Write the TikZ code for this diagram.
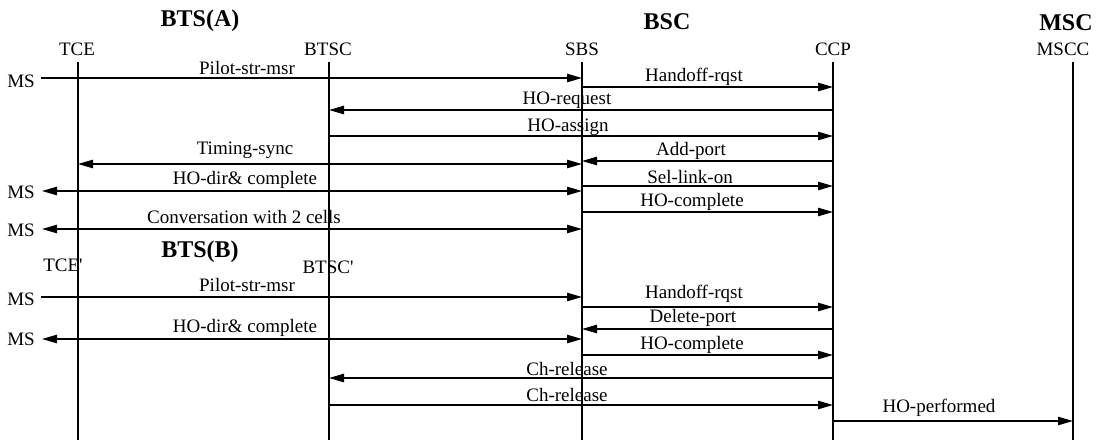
\documentclass[tikz,border=0pt]{standalone}
\usepackage{fontspec}
\setmainfont{Liberation Serif}
\usetikzlibrary{arrows.meta}
\begin{document}
\begin{tikzpicture}[x=0.5pt,y=-0.5pt,
  lbl/.style={font=\fontsize{9.5}{11}\selectfont, inner sep=0pt},
  hdr/.style={font=\fontsize{12}{14}\selectfont\bfseries, inner sep=0pt},
  life/.style={line width=0.65pt},
  msg/.style={line width=0.65pt, -{Triangle[length=7.5pt,width=4.2pt]}},
  bimsg/.style={line width=0.65pt, {Triangle[length=7.5pt,width=4.2pt]}-{Triangle[length=7.5pt,width=4.2pt]}}]
\useasboundingbox (0,0) rectangle (1105,440);
% headers
\node[hdr] (btsa) at (200,21) {BTS(A)};
\node[hdr] (bsc) at (667,22) {BSC};
\node[hdr] (msc) at (1066,23) {MSC};
\node[hdr] (btsb) at (200,252) {BTS(B)};
% lifeline labels
\node[lbl] (tce) at (77,49) {TCE};
\node[lbl] (btsc) at (328,49) {BTSC};
\node[lbl] (sbs) at (582,49) {SBS};
\node[lbl] (ccp) at (833,49) {CCP};
\node[lbl] (mscc) at (1063,49) {MSCC};
\node[lbl] (tcep) at (63,265) {TCE\textquotesingle};
\node[lbl] (btscp) at (328,267) {BTSC\textquotesingle};
% lifelines
\coordinate (tceT) at (78,62);   \coordinate (tceB) at (78,440);
\coordinate (btscT) at (329,62); \coordinate (btscB) at (329,440);
\coordinate (sbsT) at (582,62);  \coordinate (sbsB) at (582,440);
\coordinate (ccpT) at (833,62);  \coordinate (ccpB) at (833,440);
\coordinate (msccT) at (1073,62);\coordinate (msccB) at (1073,440);
\draw[life] (tceT) -- (tceB);
\draw[life] (btscT) -- (btscB);
\draw[life] (sbsT) -- (sbsB);
\draw[life] (ccpT) -- (ccpB);
\draw[life] (msccT) -- (msccB);
% MS labels
\node[lbl] (ms1) at (21,81) {MS};
\node[lbl] (ms2) at (21,192) {MS};
\node[lbl] (ms3) at (21,230) {MS};
\node[lbl] (ms4) at (21,299) {MS};
\node[lbl] (ms5) at (21,339) {MS};
% row 1
\coordinate (a1) at (41,78); \coordinate (b1) at (582,78);
\draw[msg] (a1) -- (b1);
\node[lbl] (t1) at (247,68) {Pilot-str-msr};
% row 2
\coordinate (a2) at (582,87); \coordinate (b2) at (833,87);
\draw[msg] (a2) -- (b2);
\node[lbl] (t2) at (694,77) {Handoff-rqst};
% row 3
\coordinate (a3) at (833,110); \coordinate (b3) at (329,110);
\draw[msg] (a3) -- (b3);
\node[lbl] (t3) at (567,100) {HO-request};
% row 4
\coordinate (a4) at (329,136); \coordinate (b4) at (833,136);
\draw[msg] (a4) -- (b4);
\node[lbl] (t4) at (568,127) {HO-assign};
% row 5
\coordinate (a5) at (78,164); \coordinate (b5) at (582,164);
\draw[bimsg] (a5) -- (b5);
\node[lbl] (t5) at (245,150) {Timing-sync};
% row 6
\coordinate (a6) at (833,161); \coordinate (b6) at (582,161);
\draw[msg] (a6) -- (b6);
\node[lbl] (t6) at (691,151) {Add-port};
% row 7
\coordinate (a7) at (42,191); \coordinate (b7) at (582,191);
\draw[bimsg] (a7) -- (b7);
\node[lbl] (t7) at (245,180) {HO-dir\& complete};
% row 8
\coordinate (a8) at (582,186); \coordinate (b8) at (833,186);
\draw[msg] (a8) -- (b8);
\node[lbl] (t8) at (690,177) {Sel-link-on};
% row 9
\coordinate (a9) at (582,212); \coordinate (b9) at (833,212);
\draw[msg] (a9) -- (b9);
\node[lbl] (t9) at (692,202) {HO-complete};
% row 10
\coordinate (a10) at (42,229); \coordinate (b10) at (582,229);
\draw[bimsg] (a10) -- (b10);
\node[lbl] (t10) at (244,217) {Conversation with 2 cells};
% row 12
\coordinate (a12) at (41,297); \coordinate (b12) at (582,297);
\draw[msg] (a12) -- (b12);
\node[lbl] (t12) at (247,285) {Pilot-str-msr};
% row 13
\coordinate (a13) at (582,307); \coordinate (b13) at (833,307);
\draw[msg] (a13) -- (b13);
\node[lbl] (t13) at (694,294) {Handoff-rqst};
% row 14
\coordinate (a14) at (833,329); \coordinate (b14) at (582,329);
\draw[msg] (a14) -- (b14);
\node[lbl] (t14) at (693,318) {Delete-port};
% row 15
\coordinate (a15) at (42,339); \coordinate (b15) at (582,339);
\draw[bimsg] (a15) -- (b15);
\node[lbl] (t15) at (245,328) {HO-dir\& complete};
% row 16
\coordinate (a16) at (582,355); \coordinate (b16) at (833,355);
\draw[msg] (a16) -- (b16);
\node[lbl] (t16) at (692,345) {HO-complete};
% row 17
\coordinate (a17) at (833,378); \coordinate (b17) at (329,378);
\draw[msg] (a17) -- (b17);
\node[lbl] (t17) at (567,369) {Ch-release};
% row 18
\coordinate (a18) at (329,405); \coordinate (b18) at (833,405);
\draw[msg] (a18) -- (b18);
\node[lbl] (t18) at (567,395) {Ch-release};
% row 19
\coordinate (a19) at (833,421); \coordinate (b19) at (1073,421);
\draw[msg] (a19) -- (b19);
\node[lbl] (t19) at (939,408) {HO-performed};
\end{tikzpicture}
\end{document}
